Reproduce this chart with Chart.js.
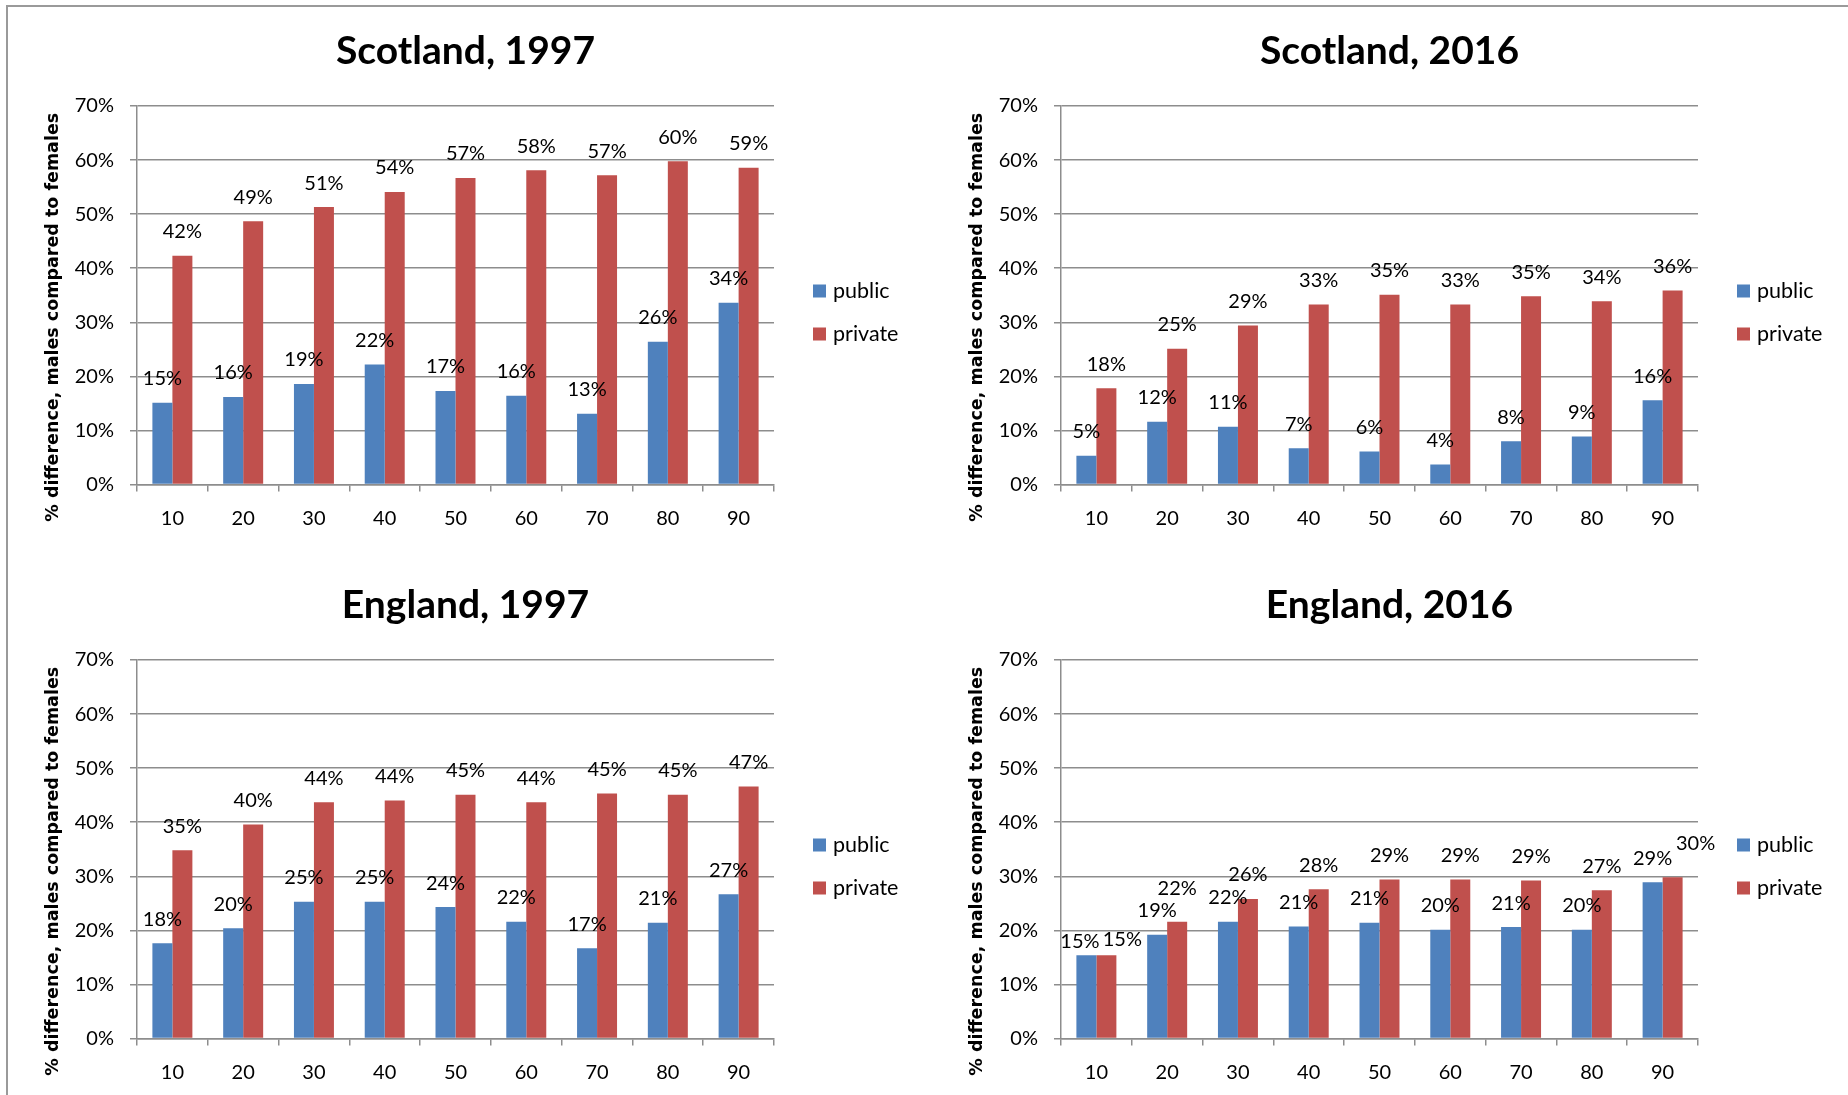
<!DOCTYPE html>
<html>
<head>
<meta charset="utf-8">
<title>Gender pay gap by percentile</title>
<script src="https://cdn.jsdelivr.net/npm/chart.js@4.4.1/dist/chart.umd.min.js"></script>
<style>
  html, body { margin: 0; padding: 0; background: #fff; overflow: hidden; }
  #page { position: relative; width: 1848px; height: 1095px; }
  #frame { position: absolute; left: 6px; top: 5px; right: 0; bottom: 0;
           border-left: 2px solid #9a9a9a; border-top: 2px solid #9a9a9a; }
  .panel { position: absolute; width: 924px; height: 554px; }
</style>
</head>
<body>
<div id="page">
  <div id="frame"></div>
  <div class="panel" style="left:0;top:0"><canvas id="scot1997" width="924" height="554"></canvas></div>
  <div class="panel" style="left:924px;top:0"><canvas id="scot2016" width="924" height="554"></canvas></div>
  <div class="panel" style="left:0;top:554px"><canvas id="eng1997" width="924" height="554"></canvas></div>
  <div class="panel" style="left:924px;top:554px"><canvas id="eng2016" width="924" height="554"></canvas></div>
</div>
<script>
// pay percentiles along the x axis
const percentiles = ['10', '20', '30', '40', '50', '60', '70', '80', '90'];
const seriesNames = ['public', 'private'];

// % difference, males compared to females
const scot1997Public  = [15.1, 16.2, 18.6, 22.2, 17.3, 16.4, 13.1, 26.4, 33.6];
const scot1997Private = [42.3, 48.7, 51.3, 54.1, 56.7, 58.1, 57.2, 59.8, 58.6];
const scot2016Public  = [5.3, 11.6, 10.7, 6.7, 6.1, 3.7, 8.0, 8.9, 15.6];
const scot2016Private = [17.8, 25.1, 29.4, 33.3, 35.1, 33.3, 34.8, 33.9, 35.9];
const eng1997Public   = [17.6, 20.4, 25.3, 25.3, 24.3, 21.6, 16.7, 21.4, 26.7];
const eng1997Private  = [34.8, 39.6, 43.7, 44.0, 45.1, 43.7, 45.3, 45.1, 46.6];
const eng2016Public   = [15.4, 19.2, 21.6, 20.7, 21.4, 20.1, 20.6, 20.1, 28.9];
const eng2016Private  = [15.4, 21.6, 25.8, 27.6, 29.4, 29.4, 29.2, 27.4, 29.8];

const BLUE = '#4f81bd';
const RED = '#c0504d';
const GRID = '#8d8d8d';
const FONT = 'Lato, "Open Sans", sans-serif';

// value labels above each bar; a few are nudged where they would collide
const barValueLabels = {
  id: 'barValueLabels',
  afterDatasetsDraw(chart, args, opts) {
    const ctx = chart.ctx;
    const nudge = opts.nudge || {};
    ctx.save();
    ctx.font = '20px ' + FONT;
    ctx.fillStyle = '#000';
    ctx.textAlign = 'center';
    ctx.textBaseline = 'middle';
    chart.data.datasets.forEach((ds, di) => {
      chart.getDatasetMeta(di).data.forEach((bar, i) => {
        const n = nudge[di + '-' + i] || { dx: 0, dy: 0 };
        ctx.fillText(Math.round(ds.data[i]) + '%', bar.x + n.dx, bar.y - 24 + n.dy);
      });
    });
    ctx.restore();
  }
};

// square-swatch legend in the right margin
const sideLegend = {
  id: 'sideLegend',
  afterDraw(chart) {
    const ctx = chart.ctx;
    const a = chart.chartArea;
    ctx.save();
    ctx.font = '21.5px ' + FONT;
    ctx.textBaseline = 'middle';
    ctx.textAlign = 'left';
    chart.data.datasets.forEach((ds, i) => {
      const cy = a.top + 185 + i * 43;
      ctx.fillStyle = ds.backgroundColor;
      ctx.fillRect(a.right + 39, cy - 6.5, 13, 13);
      ctx.fillStyle = '#000';
      ctx.fillText(ds.label, a.right + 59, cy);
    });
    ctx.restore();
  }
};

// rotated y axis caption, centred over plot plus category labels
const yCaption = {
  id: 'yCaption',
  afterDraw(chart) {
    const ctx = chart.ctx;
    const a = chart.chartArea;
    ctx.save();
    ctx.translate(53, (a.top + a.bottom) / 2 + 22);
    ctx.rotate(-Math.PI / 2);
    ctx.font = 'bold 17.5px "DejaVu Sans", Verdana, sans-serif';
    ctx.fillStyle = '#000';
    ctx.textAlign = 'center';
    ctx.textBaseline = 'middle';
    ctx.fillText('% difference, males compared to females', 0, 0);
    ctx.restore();
  }
};

function buildChart(id, title, publicVals, privateVals, nudge) {
  return new Chart(document.getElementById(id), {
    type: 'bar',
    data: {
      labels: percentiles,
      datasets: [
        { label: seriesNames[0], data: publicVals, backgroundColor: BLUE },
        { label: seriesNames[1], data: privateVals, backgroundColor: RED }
      ]
    },
    options: {
      responsive: false,
      animation: false,
      events: [],
      layout: { padding: { left: 7, top: 0, right: 0, bottom: 0 } },
      datasets: { bar: { categoryPercentage: 0.565, barPercentage: 1 } },
      plugins: {
        legend: { display: false },
        tooltip: { enabled: false },
        title: {
          display: true,
          text: title,
          color: '#000',
          font: { family: FONT, size: 39, weight: 'bold', lineHeight: 1.2 },
          padding: { top: 27.6, bottom: 31.6 }
        },
        barValueLabels: { nudge: nudge || {} }
      },
      scales: {
        x: {
          grid: { drawOnChartArea: false, drawTicks: true, tickLength: 7, color: GRID, lineWidth: 1.5 },
          border: { display: true, color: GRID, width: 1.5 },
          ticks: { color: '#000', font: { family: FONT, size: 20 }, padding: 15, maxRotation: 0 },
          afterFit(s) { s.height = 69.5; }
        },
        y: {
          min: 0,
          max: 70,
          grid: { color: GRID, lineWidth: 1.5, drawTicks: true, tickLength: 7 },
          border: { display: true, color: GRID, width: 1.5 },
          ticks: {
            stepSize: 10,
            color: '#000',
            font: { family: FONT, size: 20 },
            padding: 16,
            callback: v => v + '%'
          },
          afterFit(s) { s.width = 130; }
        },
        // reserves the right-hand margin where the legend sits
        legendSpace: {
          type: 'linear',
          position: 'right',
          display: true,
          grid: { display: false },
          border: { display: false },
          ticks: { display: false },
          afterFit(s) { s.width = 150; }
        }
      }
    },
    plugins: [barValueLabels, sideLegend, yCaption]
  });
}

Promise.all([
  document.fonts.load('20px Lato'),
  document.fonts.load('bold 39px Lato'),
  document.fonts.load('bold 17px "DejaVu Sans"')
]).catch(() => {}).then(() => {
  buildChart('scot1997', 'Scotland, 1997', scot1997Public, scot1997Private);
  buildChart('scot2016', 'Scotland, 2016', scot2016Public, scot2016Private);
  buildChart('eng1997', 'England, 1997', eng1997Public, eng1997Private);
  buildChart('eng2016', 'England, 2016', eng2016Public, eng2016Private, {
    '0-0': { dx: -6.5, dy: 10 },
    '1-0': { dx: 16, dy: 8 },
    '1-1': { dx: 0, dy: -9 },
    '1-8': { dx: 23, dy: -10 }
  });
});
</script>
</body>
</html>
